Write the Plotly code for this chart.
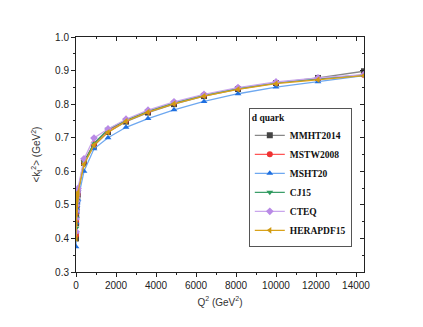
import plotly.graph_objects as go

Q2 = [1, 4, 9, 16, 25, 36, 49, 64, 81, 100, 400, 900, 1600, 2500, 3600, 4900, 6400, 8100, 10000, 12100, 14400]

MMHT2014 = [0.400, 0.445, 0.470, 0.487, 0.500, 0.510, 0.518, 0.525, 0.531, 0.536, 0.625, 0.676, 0.717, 0.748, 0.775, 0.800, 0.824, 0.845, 0.863, 0.878, 0.898]
MSTW2008 = [0.410, 0.452, 0.476, 0.492, 0.504, 0.513, 0.521, 0.528, 0.534, 0.540, 0.630, 0.682, 0.722, 0.752, 0.779, 0.804, 0.827, 0.847, 0.864, 0.876, 0.887]
MSHT20 = [0.375, 0.420, 0.447, 0.465, 0.479, 0.490, 0.499, 0.506, 0.512, 0.517, 0.600, 0.667, 0.700, 0.731, 0.757, 0.783, 0.808, 0.831, 0.851, 0.867, 0.885]
CJ15 = [0.430, 0.460, 0.480, 0.494, 0.505, 0.514, 0.522, 0.529, 0.535, 0.540, 0.628, 0.683, 0.725, 0.752, 0.779, 0.804, 0.827, 0.847, 0.864, 0.876, 0.886]
CTEQ = [0.420, 0.458, 0.482, 0.499, 0.511, 0.521, 0.529, 0.536, 0.542, 0.549, 0.637, 0.699, 0.726, 0.755, 0.782, 0.807, 0.829, 0.849, 0.866, 0.878, 0.888]
HERAPDF15 = [0.400, 0.446, 0.472, 0.489, 0.501, 0.511, 0.519, 0.526, 0.532, 0.537, 0.620, 0.678, 0.716, 0.749, 0.776, 0.801, 0.824, 0.844, 0.861, 0.873, 0.885]

x_ticks = [0, 2000, 4000, 6000, 8000, 10000, 12000, 14000]

series = [
    ("MMHT2014", MMHT2014, "#888888", "#444444", "square"),
    ("MSTW2008", MSTW2008, "#FF5555", "#EE3333", "circle"),
    ("MSHT20", MSHT20, "#6EA8F0", "#1E6FE0", "triangle-up"),
    ("CJ15", CJ15, "#3C9E6A", "#2E9B5E", "triangle-down"),
    ("CTEQ", CTEQ, "#C9A6EC", "#B98AE6", "diamond"),
    ("HERAPDF15", HERAPDF15, "#D9A21A", "#D09A10", "triangle-left"),
]

fig = go.Figure()
for name, ys, lc, mc, sym in series:
    fig.add_trace(go.Scatter(
        x=Q2, y=ys, name="<b>" + name + "</b>", mode="lines+markers",
        line=dict(color=lc, width=1.3),
        marker=dict(color=mc, symbol=sym, size=6),
    ))

tickfont = dict(family="Liberation Sans, Arial", size=10, color="#222")
serif = "Liberation Serif, Times New Roman"
fig.update_layout(
    template="none",
    width=423, height=327,
    margin=dict(l=68, r=67, t=29, b=63, autoexpand=False),
    paper_bgcolor="white", plot_bgcolor="white",
    showlegend=True,
    legend=dict(
        x=0.60, y=0.70, xanchor="left", yanchor="top",
        bordercolor="#555", borderwidth=1, bgcolor="white",
        font=dict(family=serif, size=9.5, color="#111"),
        title=dict(text="<b>d quark</b>", font=dict(family=serif, size=9.5, color="#111")),
        tracegroupgap=0, itemwidth=30,
    ),
    xaxis=dict(
        range=[0, 14400], tickvals=x_ticks, ticktext=[str(v) for v in x_ticks],
        ticks="outside", ticklen=4, tickwidth=1, tickcolor="#222",
        minor=dict(ticks="outside", ticklen=2, dtick=1000, tickcolor="#222"),
        showline=True, linecolor="#222", linewidth=1, showgrid=False, zeroline=False,
        tickfont=tickfont, automargin=False,
        title=dict(text="Q<sup>2</sup> (GeV<sup>2</sup>)", font=dict(family="Liberation Sans, Arial", size=10, color="#333"), standoff=8),
    ),
    yaxis=dict(
        range=[0.3, 1.0], dtick=0.1, tickformat=".1f",
        ticks="outside", ticklen=4, tickwidth=1, tickcolor="#222",
        minor=dict(ticks="outside", ticklen=2, dtick=0.05, tickcolor="#222"),
        showline=True, linecolor="#222", linewidth=1, showgrid=False, zeroline=False,
        tickfont=tickfont, automargin=False,
        title=dict(text="<k<sub>t</sub><sup>2</sup>> (GeV<sup>2</sup>)", font=dict(family="Liberation Sans, Arial", size=10, color="#333"), standoff=12),
    ),
    xaxis2=dict(
        overlaying="x", side="top", range=[0, 14400], tickvals=x_ticks,
        ticks="inside", ticklen=4, tickcolor="#222", showticklabels=False,
        minor=dict(ticks="inside", ticklen=2, dtick=1000, tickcolor="#222"),
        showline=True, linecolor="#222", linewidth=1, showgrid=False, zeroline=False,
    ),
    yaxis2=dict(
        overlaying="y", side="right", range=[0.3, 1.0], dtick=0.1,
        ticks="inside", ticklen=4, tickcolor="#222", showticklabels=False,
        minor=dict(ticks="inside", ticklen=2, dtick=0.05, tickcolor="#222"),
        showline=True, linecolor="#222", linewidth=1, showgrid=False, zeroline=False,
    ),
)
fig.add_trace(go.Scatter(x=[None], y=[None], xaxis="x2", yaxis="y2", showlegend=False, hoverinfo="skip"))

fig.write_html("out.html")
